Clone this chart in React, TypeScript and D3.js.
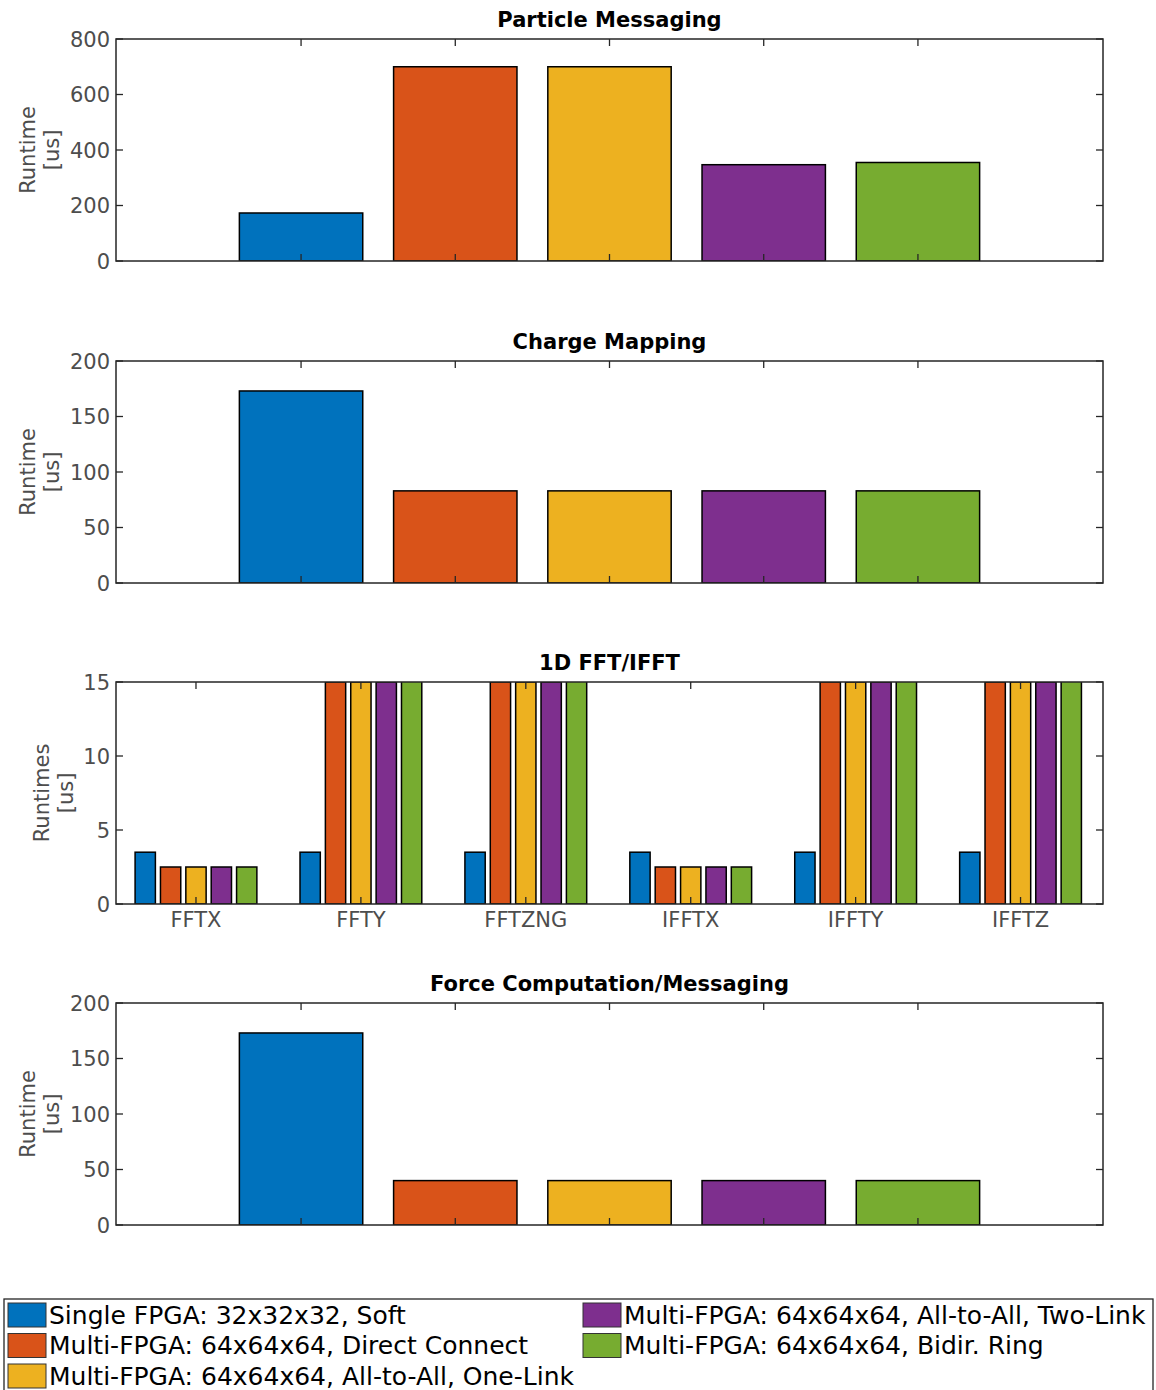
import React from 'react';
import * as d3 from 'd3';

// series (one colour per hardware setup)
const seriesNames = [
  'Single FPGA: 32x32x32, Soft',
  'Multi-FPGA: 64x64x64, Direct Connect',
  'Multi-FPGA: 64x64x64, All-to-All, One-Link',
  'Multi-FPGA: 64x64x64, All-to-All, Two-Link',
  'Multi-FPGA: 64x64x64, Bidir. Ring',
];
const seriesColors = ['#0072BD', '#D95319', '#EDB120', '#7E2F8E', '#77AC30'];

// single-bar panels: one value per series
const particleMessaging = [173, 700, 700, 347, 355];
const chargeMapping = [173, 83, 83, 83, 83];
const forceComputation = [173, 40, 40, 40, 40];

// grouped panel
const fftCategories = ['FFTX', 'FFTY', 'FFTZNG', 'IFFTX', 'IFFTY', 'IFFTZ'];
const fftSingle = [3.5, 3.5, 3.5, 3.5, 3.5, 3.5];
const fftDirect = [2.5, 15, 15, 2.5, 15, 15];
const fftOneLink = [2.5, 15, 15, 2.5, 15, 15];
const fftTwoLink = [2.5, 15, 15, 2.5, 15, 15];
const fftRing = [2.5, 16, 16, 2.5, 16, 16];
const fftSeries = [fftSingle, fftDirect, fftOneLink, fftTwoLink, fftRing];

const ticks800 = [0, 200, 400, 600, 800];
const ticks200 = [0, 50, 100, 150, 200];
const ticks15 = [0, 5, 10, 15];

const W = 1156;
const H = 1390;
const left = 116;
const right = 1103;
const panelH = 222;
const axisColor = '#262626';
const textColor = '#4d4d4d';
const font = 'DejaVu Sans, sans-serif';
const tickLen = 7;

type PanelProps = {
  id: string;
  top: number;
  title: string;
  yTicks: number[];
  ylab: string[];
  ylabX: number[];
  x: d3.ScaleLinear<number, number>;
  xTicks: number[];
  xLabels?: string[];
  children: (y: d3.ScaleLinear<number, number>) => React.ReactNode;
};

const Panel = ({ id, top, title, yTicks, ylab, ylabX, x, xTicks, xLabels, children }: PanelProps) => {
  const y = d3.scaleLinear()
    .domain([0, yTicks[yTicks.length - 1]])
    .range([top + panelH, top]);
  const bottom = top + panelH;
  const mid = top + panelH / 2;
  return (
    <g>
      <defs>
        <clipPath id={id}>
          <rect x={left} y={top} width={right - left} height={panelH} />
        </clipPath>
      </defs>
      <text x={(left + right) / 2} y={top - 12} textAnchor="middle"
        fontFamily={font} fontWeight="bold" fontSize={21} fill="#000">{title}</text>
      <g clipPath={`url(#${id})`}>{children(y)}</g>
      {/* box */}
      <rect x={left} y={top} width={right - left} height={panelH}
        fill="none" stroke={axisColor} strokeWidth={1.5} />
      {yTicks.map(t => (
        <g key={'y' + t}>
          <line x1={left} x2={left + tickLen} y1={y(t)} y2={y(t)} stroke={axisColor} strokeWidth={1.3} />
          <line x1={right} x2={right - tickLen} y1={y(t)} y2={y(t)} stroke={axisColor} strokeWidth={1.3} />
          <text x={left - 6} y={y(t)} dy="0.36em" textAnchor="end"
            fontFamily={font} fontSize={21} fill={textColor}>{t}</text>
        </g>
      ))}
      {xTicks.map((t, i) => (
        <g key={'x' + t}>
          <line x1={x(t)} x2={x(t)} y1={bottom} y2={bottom - tickLen} stroke={axisColor} strokeWidth={1.3} />
          <line x1={x(t)} x2={x(t)} y1={top} y2={top + tickLen} stroke={axisColor} strokeWidth={1.3} />
          {xLabels && (
            <text x={x(t)} y={bottom + 23} textAnchor="middle"
              fontFamily={font} fontSize={21} fill={textColor}>{xLabels[i]}</text>
          )}
        </g>
      ))}
      {ylab.map((l, i) => (
        <text key={l} transform={`translate(${ylabX[i]},${mid}) rotate(-90)`}
          textAnchor="middle" dominantBaseline="central"
          fontFamily={font} fontSize={21} fill={textColor}>{l}</text>
      ))}
    </g>
  );
};

const App = () => {
  const xBar = d3.scaleLinear().domain([-0.2, 6.2]).range([left, right]);
  const xGroup = d3.scaleLinear().domain([0.515, 6.5]).range([left, right]);
  const barIdx = d3.range(1, seriesNames.length + 1);
  const groupIdx = d3.range(1, fftCategories.length + 1);

  const singleBars = (vals: number[]) => (y: d3.ScaleLinear<number, number>) => {
    const w = xBar(0.8) - xBar(0);
    return vals.map((v, i) => (
      <rect key={i} x={xBar(i + 1) - w / 2} y={y(v)} width={w} height={y(0) - y(v)}
        fill={seriesColors[i]} stroke="#000" strokeWidth={1.5} />
    ));
  };

  // MATLAB grouped bar layout
  const nS = fftSeries.length;
  const groupWidth = Math.min(0.8, nS / (nS + 1.5));
  const pitch = groupWidth / nS;
  const fftBars = (y: d3.ScaleLinear<number, number>) => {
    const w = xGroup(pitch * 0.8) - xGroup(0);
    return fftSeries.map((vals, s) =>
      vals.map((v, g) => {
        const cx = xGroup(g + 1 - groupWidth / 2 + pitch * (s + 0.5));
        return (
          <rect key={s + '-' + g} x={cx - w / 2} y={y(v)} width={w} height={y(0) - y(v)}
            fill={seriesColors[s]} stroke="#000" strokeWidth={1.5} />
        );
      })
    );
  };

  const legendTop = 1299;
  const rowH = 30.5;
  const colX = [8, 583];
  const legendItems = seriesNames.map((n, i) => ({
    name: n,
    color: seriesColors[i],
    col: i < 3 ? 0 : 1,
    row: i < 3 ? i : i - 3,
  }));

  return (
    <svg width={W} height={H} style={{ position: 'absolute', left: 0, top: 0, background: '#fff' }}>
      <rect width={W} height={H} fill="#fff" />
      <Panel id="c1" top={39} title="Particle Messaging" yTicks={ticks800}
        ylab={['Runtime', '[us]']} ylabX={[28, 52]} x={xBar} xTicks={barIdx}>
        {singleBars(particleMessaging)}
      </Panel>
      <Panel id="c2" top={361} title="Charge Mapping" yTicks={ticks200}
        ylab={['Runtime', '[us]']} ylabX={[28, 52]} x={xBar} xTicks={barIdx}>
        {singleBars(chargeMapping)}
      </Panel>
      <Panel id="c3" top={682} title="1D FFT/IFFT" yTicks={ticks15}
        ylab={['Runtimes', '[us]']} ylabX={[42, 66]} x={xGroup} xTicks={groupIdx}
        xLabels={fftCategories}>
        {fftBars}
      </Panel>
      <Panel id="c4" top={1003} title="Force Computation/Messaging" yTicks={ticks200}
        ylab={['Runtime', '[us]']} ylabX={[28, 52]} x={xBar} xTicks={barIdx}>
        {singleBars(forceComputation)}
      </Panel>

      {/* legend */}
      <rect x={4} y={legendTop} width={1149} height={100} fill="#fff" stroke={axisColor} strokeWidth={1.3} />
      {legendItems.map(d => {
        const ly = legendTop + 4 + d.row * rowH;
        return (
          <g key={d.name}>
            <rect x={colX[d.col]} y={ly} width={38} height={24} fill={d.color} stroke="#333" strokeWidth={1} />
            <text x={colX[d.col] + 41} y={ly + 12} dy="0.34em" fontFamily={font} fontSize={25} fill="#000">{d.name}</text>
          </g>
        );
      })}
    </svg>
  );
};

export default App;
